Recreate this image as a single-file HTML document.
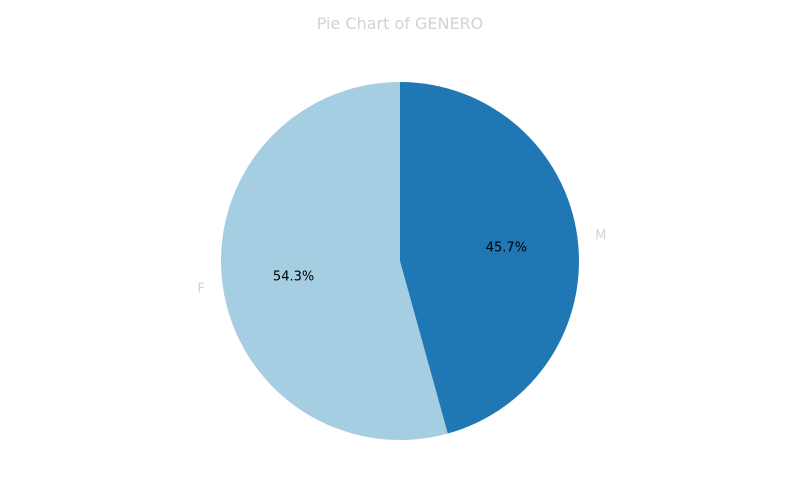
<!DOCTYPE html>
<html><head><meta charset="utf-8">
<style>
html,body{margin:0;padding:0;background:#fff;width:800px;height:500px;overflow:hidden}
svg{display:block;font-family:"DejaVu Sans","Liberation Sans",sans-serif}
</style></head>
<body>
<svg id="chart" width="800" height="500">
<text x="400" y="29" text-anchor="middle" font-size="16" fill="#d3d3d3">Pie Chart of GENERO</text>
</svg>
<script>
const categories = ["F", "M"];
const values = [54.3, 45.7];
const colors = ["#a6cee3", "#1f78b4"];

const svg = document.getElementById('chart');
const NS = 'http://www.w3.org/2000/svg';
const cx = 400, cy = 261, r = 179;
const total = values.reduce((a, b) => a + b, 0);
let start = 90; // degrees, counterclockwise
function pt(deg, rad) {
  const a = deg * Math.PI / 180;
  return [cx + rad * Math.cos(a), cy - rad * Math.sin(a)];
}
values.forEach((v, i) => {
  const sweep = v / total * 360;
  const end = start + sweep;
  const [x1, y1] = pt(start, r);
  const [x2, y2] = pt(end, r);
  const large = sweep > 180 ? 1 : 0;
  const p = document.createElementNS(NS, 'path');
  p.setAttribute('d', `M${cx},${cy} L${x1},${y1} A${r},${r} 0 ${large} 0 ${x2},${y2} Z`);
  p.setAttribute('fill', colors[i]);
  
  
  svg.appendChild(p);
  const mid = start + sweep / 2;
  const [lx, ly] = pt(mid, r * 1.1);
  const t = document.createElementNS(NS, 'text');
  t.setAttribute('x', lx);
  t.setAttribute('y', ly + 5);
  t.setAttribute('font-size', '13');
  t.setAttribute('fill', '#d3d3d3');
  t.setAttribute('text-anchor', Math.cos(mid * Math.PI / 180) >= 0 ? 'start' : 'end');
  t.textContent = categories[i];
  
  
  svg.appendChild(t);
  const [px, py] = pt(mid, r * 0.6);
  const pc = document.createElementNS(NS, 'text');
  pc.setAttribute('x', px);
  pc.setAttribute('y', py + 5);
  pc.setAttribute('font-size', '13');
  pc.setAttribute('fill', '#000');
  pc.setAttribute('text-anchor', 'middle');
  pc.textContent = (v / total * 100).toFixed(1) + '%';
  
  
  svg.appendChild(pc);
  start = end;
});
</script>
</body></html>
